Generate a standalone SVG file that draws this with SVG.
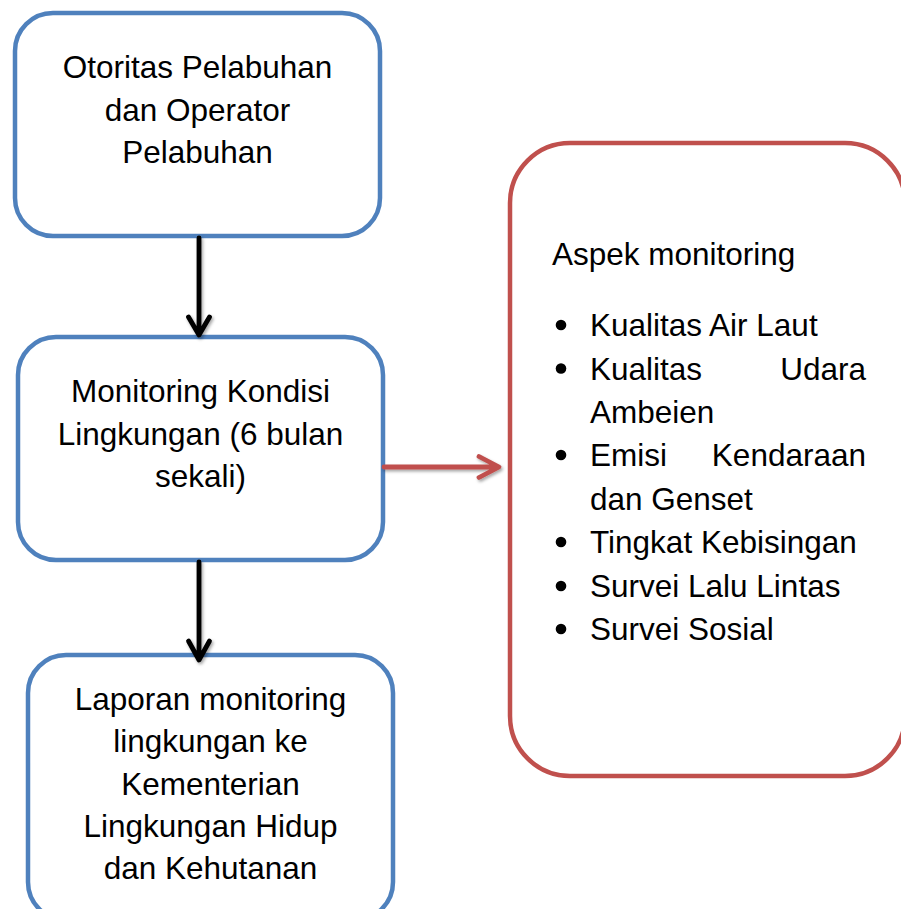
<svg xmlns="http://www.w3.org/2000/svg" width="901" height="909" viewBox="0 0 901 909">
  <defs>
    <style>
      .box-blue { fill: #ffffff; stroke: #4F81BD; stroke-width: 4.5; }
      .box-red { fill: #ffffff; stroke: #C0504D; stroke-width: 4.5; }
      .label { font-family: "Liberation Sans", Arial, sans-serif; font-size: 31.5px; fill: #000000; }
      .mid { text-anchor: middle; }
      .end { text-anchor: end; }
      .conn-black { fill: none; stroke: #000000; stroke-width: 4.8; stroke-linecap: round; stroke-linejoin: round; }
      .conn-red { fill: none; stroke: #C0504D; stroke-width: 4.8; stroke-linecap: round; stroke-linejoin: round; }
    </style>
    <filter id="soft-shadow" x="-20%" y="-20%" width="140%" height="140%">
      <feDropShadow dx="1.5" dy="2" stdDeviation="1.5" flood-color="#000000" flood-opacity="0.35"/>
    </filter>
  </defs>

  <rect width="901" height="909" fill="#ffffff"/>

  <!-- Port authority and operator -->
  <g id="node-otoritas">
    <rect class="box-blue" x="15" y="13" width="365" height="223" rx="38" ry="38"/>
    <text class="label mid" x="197.5" y="78">Otoritas Pelabuhan</text>
    <text class="label mid" x="197.5" y="120.5">dan Operator</text>
    <text class="label mid" x="197.5" y="163">Pelabuhan</text>
  </g>

  <!-- Environmental monitoring -->
  <g id="node-monitoring">
    <rect class="box-blue" x="18" y="337" width="365" height="223" rx="38" ry="38"/>
    <text class="label mid" x="200.5" y="402">Monitoring Kondisi</text>
    <text class="label mid" x="200.5" y="445">Lingkungan (6 bulan</text>
    <text class="label mid" x="200.5" y="487">sekali)</text>
  </g>

  <!-- Report to ministry -->
  <g id="node-laporan">
    <rect class="box-blue" x="28" y="655" width="365" height="265" rx="38" ry="38"/>
    <text class="label mid" x="210.5" y="710">Laporan monitoring</text>
    <text class="label mid" x="210.5" y="752">lingkungan ke</text>
    <text class="label mid" x="210.5" y="795">Kementerian</text>
    <text class="label mid" x="210.5" y="837">Lingkungan Hidup</text>
    <text class="label mid" x="210.5" y="879">dan Kehutanan</text>
  </g>

  <!-- Monitoring aspects -->
  <g id="node-aspek">
    <rect class="box-red" x="510" y="143" width="395" height="633" rx="60" ry="60"/>
    <text class="label" x="552" y="265">Aspek monitoring</text>
    <g fill="#000000">
      <circle cx="561" cy="325" r="5.3"/>
      <circle cx="561" cy="368.5" r="5.3"/>
      <circle cx="561" cy="455" r="5.3"/>
      <circle cx="561" cy="542" r="5.3"/>
      <circle cx="561" cy="586" r="5.3"/>
      <circle cx="561" cy="629" r="5.3"/>
    </g>
    <text class="label" x="590" y="336">Kualitas Air Laut</text>
    <text class="label" x="590" y="379.5">Kualitas</text>
    <text class="label end" x="866" y="379.5">Udara</text>
    <text class="label" x="590" y="423">Ambeien</text>
    <text class="label" x="590" y="466">Emisi</text>
    <text class="label end" x="866" y="466">Kendaraan</text>
    <text class="label" x="590" y="510">dan Genset</text>
    <text class="label" x="590" y="553">Tingkat Kebisingan</text>
    <text class="label" x="590" y="597">Survei Lalu Lintas</text>
    <text class="label" x="590" y="640">Survei Sosial</text>
  </g>

  <!-- Connectors -->
  <g id="connectors" filter="url(#soft-shadow)">
    <path class="conn-black" d="M199 238 V334 M188.5 317 L199 335 L209.5 317"/>
    <path class="conn-black" d="M199 562 V659 M188.5 641 L199 660 L209.5 641"/>
    <path class="conn-red" d="M384 467 H498 M479 456.5 L499 467 L479 477.5"/>
  </g>
</svg>
